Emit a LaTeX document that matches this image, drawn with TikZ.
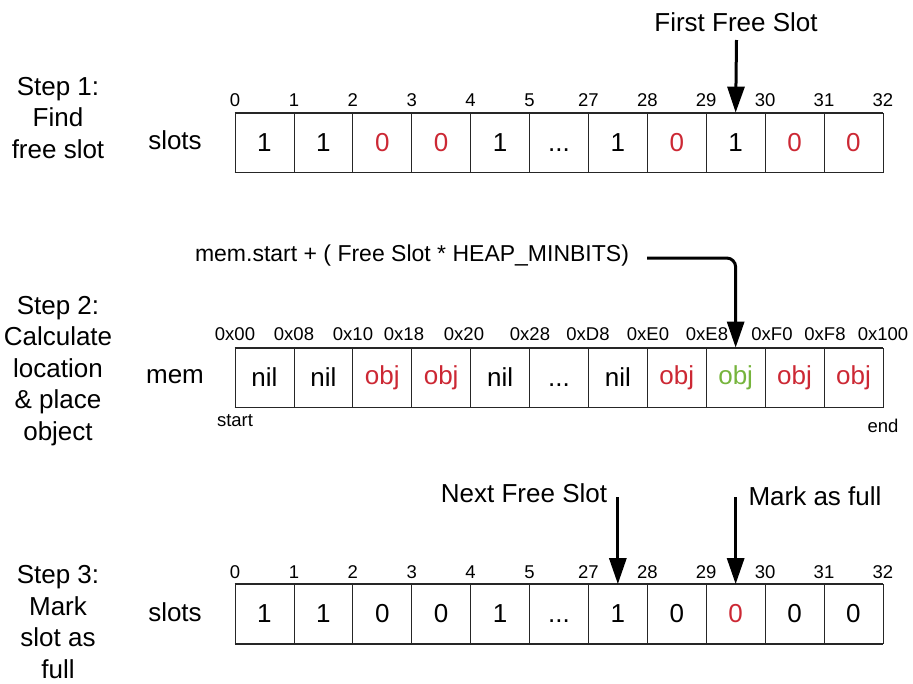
\documentclass[tikz,border=0pt]{standalone}
\usepackage{fontspec}
\setmainfont{Liberation Sans}
\usetikzlibrary{arrows.meta}
\definecolor{objred}{RGB}{204,40,52}
\definecolor{objgreen}{RGB}{118,180,60}
\newcommand\bigf{\fontsize{26}{31.5}\selectfont}
\newcommand\smallf{\fontsize{18.5}{22}\selectfont}
\newcommand\midf{\fontsize{23}{28}\selectfont}
\newcommand\threedots{\vphantom{1}.\kern0pt.\kern0pt.}
\tikzset{
  cellbox/.style={draw=black!85, line width=0.8pt, minimum width=58.9pt, minimum height=59pt, inner sep=0pt, font=\bigf},
  idx/.style={inner sep=0pt, font=\smallf},
  lbl/.style={inner sep=0pt, font=\bigf, align=center},
  arr/.style={line width=3pt, -{Triangle[width=17pt,length=26pt]}},
  edge/.style={line width=1.6pt, black!85}
}
\begin{document}
\begin{tikzpicture}[x=1pt,y=-1pt]
\useasboundingbox (0,0) rectangle (913,683);
% Step labels
\node[lbl] (s1) at (58,118) {Step 1:\\Find\\free slot};
\node[lbl] (s2) at (58,371) {Step 2:\\Calculate\\location\\\& place\\object};
\node[lbl] (s3) at (58,622) {Step 3:\\Mark\\slot as\\full};
\node[lbl] (n1) at (175,140) {slots};
\node[lbl] (n2) at (175,377) {mem};
\node[lbl] (n3) at (175,612) {slots};
% Row 1
\foreach \t/\c [count=\i from 0] in {1/black,1/black,0/objred,0/objred,1/black,\threedots/black,1/black,0/objred,1/black,0/objred,0/objred}
  \node[cellbox, text=\c] (r1c\i) at (235+29.45+\i*58.9,142.5) {\t};
\draw[edge] (r1c0.north west) -- (r1c10.north east);
\draw[edge] (r1c0.south west) -- (r1c10.south east);
\foreach \t [count=\i from 0] in {0,1,2,3,4,5,27,28,29,30,31,32}
  \node[idx] (l1n\i) at (235+\i*58.9,100) {\t};
% Row 2
\foreach \t/\c [count=\i from 0] in {nil/black,nil/black,obj/objred,obj/objred,nil/black,\threedots/black,nil/black,obj/objred,obj/objgreen,obj/objred,obj/objred}
  \node[cellbox, text=\c] (r2c\i) at (235+29.45+\i*58.9,377.5) {\t};
\draw[edge] (r2c0.north west) -- (r2c10.north east);
\draw[edge] (r2c0.south west) -- (r2c10.south east);
\foreach \t/\x [count=\i from 0] in {0x00/235,0x08/294,0x10/353,0x18/404,0x20/464,0x28/530,0xD8/588,0xE0/648,0xE8/707,0xF0/772,0xF8/825,0x100/883}
  \node[idx] (l2n\i) at (\x,334) {\t};
\node[idx] (start) at (235,421) {start};
\node[idx] (end) at (883,426) {end};
% Row 3
\foreach \t/\c [count=\i from 0] in {1/black,1/black,0/black,0/black,1/black,\threedots/black,1/black,0/black,0/objred,0/black,0/black}
  \node[cellbox, text=\c] (r3c\i) at (235+29.45+\i*58.9,614) {\t};
\draw[edge] (r3c0.north west) -- (r3c10.north east);
\draw[edge] (r3c0.south west) -- (r3c10.south east);
\foreach \t [count=\i from 0] in {0,1,2,3,4,5,27,28,29,30,31,32}
  \node[idx] (l3n\i) at (235+\i*58.9,572) {\t};
% Annotations
\node[lbl] (ffs) at (736,22) {First Free Slot};
\coordinate (a1) at (736.5,40);
\draw[arr] (a1) -- (r1c8.north);
\node[inner sep=0pt, font=\midf] (formula) at (412,256) {mem.start + ( Free Slot * HEAP\_MINBITS)};
\coordinate (a2) at (647,258);
\draw[arr, rounded corners=9pt] (a2) -| (r2c8.north);
\node[lbl] (nfs) at (524,493) {Next Free Slot};
\node[lbl] (maf) at (815,496) {Mark as full};
\coordinate (a3) at (r3c6.north |- 0,497);
\coordinate (a4) at (r3c8.north |- 0,497);
\draw[arr] (a3) -- (r3c6.north);
\draw[arr] (a4) -- (r3c8.north);
\end{tikzpicture}
\end{document}
